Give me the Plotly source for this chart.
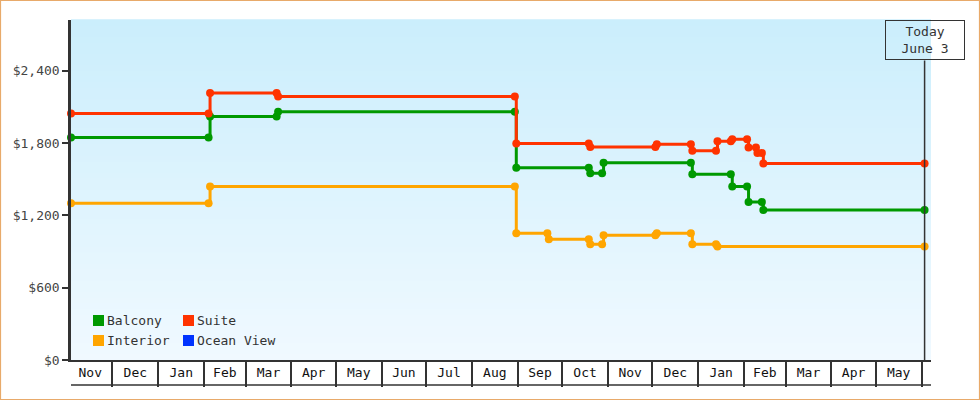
import plotly.graph_objects as go

# ---------------- data ----------------
series_names = ["Balcony", "Suite", "Interior", "Ocean View"]
series_colors = ["#009900", "#ff3300", "#ffa500", "#0033ff"]

balcony_dates = ["2021-11-03", "2022-02-04", "2022-02-05", "2022-03-22", "2022-03-23",
                 "2022-08-30", "2022-08-31", "2022-10-19", "2022-10-20", "2022-10-28",
                 "2022-10-29", "2022-12-27", "2022-12-28", "2023-01-23", "2023-01-24",
                 "2023-02-03", "2023-02-04", "2023-02-13", "2023-02-14", "2023-06-03"]
balcony_prices = [1845, 1845, 2020, 2020, 2060,
                  2060, 1595, 1595, 1548, 1548,
                  1636, 1636, 1540, 1540, 1440,
                  1440, 1310, 1310, 1245, 1245]

suite_dates = ["2021-11-03", "2022-02-04", "2022-02-05", "2022-03-22", "2022-03-23",
               "2022-08-30", "2022-08-31", "2022-10-19", "2022-10-20", "2022-12-03",
               "2022-12-04", "2022-12-27", "2022-12-28", "2023-01-13", "2023-01-14",
               "2023-01-23", "2023-01-24", "2023-02-03", "2023-02-04", "2023-02-09",
               "2023-02-10", "2023-02-13", "2023-02-14", "2023-06-03"]
suite_prices = [2045, 2045, 2215, 2215, 2186,
                2186, 1795, 1795, 1767, 1767,
                1790, 1790, 1735, 1735, 1815,
                1815, 1830, 1830, 1763, 1763,
                1717, 1717, 1630, 1630]

interior_dates = ["2021-11-03", "2022-02-04", "2022-02-05", "2022-08-30", "2022-08-31",
                  "2022-09-21", "2022-09-22", "2022-10-19", "2022-10-20", "2022-10-28",
                  "2022-10-29", "2022-12-03", "2022-12-04", "2022-12-27", "2022-12-28",
                  "2023-01-13", "2023-01-14", "2023-06-03"]
interior_prices = [1300, 1300, 1438, 1438, 1052,
                   1052, 1002, 1002, 961, 961,
                   1035, 1035, 1052, 1052, 961,
                   961, 941, 941]

ocean_view_dates = []
ocean_view_prices = []

y_tick_values = [0, 600, 1200, 1800, 2400]
y_tick_labels = ["$0", "$600", "$1,200", "$1,800", "$2,400"]
today_date = "2023-06-03"
today_label = "Today<br>June 3"
x_range = ["2021-11-03", "2023-06-07 08:00"]
y_range = [0, 2820]

series_dates = [balcony_dates, suite_dates, interior_dates, ocean_view_dates]
series_prices = [balcony_prices, suite_prices, interior_prices, ocean_view_prices]

# ---------------- layout geometry ----------------
W, H = 980, 400
L, R, T, B = 71, 49, 20, 40
PW, PH = W - L - R, H - T - B
FONT = "DejaVu Sans Mono"
TEXT = "#333333"


def dx(px):
    return (px - L) / PW


def dy(py):
    return (H - B - py) / PH


fig = go.Figure()

for name, color, xs, ys in zip(series_names, series_colors, series_dates, series_prices):
    fig.add_trace(go.Scatter(
        x=xs, y=ys, name=name, mode="lines+markers",
        line=dict(color=color, width=3, shape="hv"),
        marker=dict(color=color, size=8, symbol="circle"),
        cliponaxis=False, showlegend=False, hoverinfo="x+y+name",
    ))

shapes = []
# gradient background
top = (203, 238, 252)
bot = (240, 249, 255)
N = 60
for i in range(N):
    f = i / (N - 1)
    c = tuple(round(bot[k] + (top[k] - bot[k]) * f) for k in range(3))
    shapes.append(dict(type="rect", xref="x domain", yref="y domain",
                       x0=0, x1=1, y0=i / N, y1=(i + 1) / N + 0.002,
                       fillcolor="rgb(%d,%d,%d)" % c, line=dict(width=0),
                       layer="below"))

# bottom line of month boxes
shapes.append(dict(type="line", xref="x domain", yref="paper",
                   x0=0, x1=1, y0=dy(385), y1=dy(385),
                   line=dict(color=TEXT, width=1.5)))
# today line
shapes.append(dict(type="line", xref="x", yref="y domain",
                   x0=today_date, x1=today_date, y0=0, y1=dy(60.5),
                   line=dict(color=TEXT, width=1.5)))
# outer frame
shapes.append(dict(type="rect", xref="paper", yref="paper",
                   x0=dx(0.5), x1=dx(979.5), y0=dy(399.5), y1=dy(0.5),
                   line=dict(color="#e8aa6a", width=1.2), fillcolor="rgba(0,0,0,0)"))

annotations = []
# manual legend (2 columns)
legend_pos = [(93, 315), (183, 315), (93, 335), (183, 335)]
for (lx, ly), name, color in zip(legend_pos, series_names, series_colors):
    shapes.append(dict(type="rect", xref="paper", yref="paper",
                       x0=dx(lx), x1=dx(lx + 11), y0=dy(ly + 11), y1=dy(ly),
                       fillcolor=color, line=dict(width=0)))
    annotations.append(dict(x=dx(lx + 12), y=dy(ly + 5.5), xref="paper", yref="paper",
                            text=name, showarrow=False, xanchor="left", yanchor="middle",
                            font=dict(family=FONT, size=13, color=TEXT)))

annotations.append(dict(x=today_date, xref="x", y=1, yref="y domain",
                        text=today_label, showarrow=False, xanchor="center", yanchor="top",
                        width=78, height=38, borderpad=0, borderwidth=1, bordercolor=TEXT,
                        align="center", font=dict(family=FONT, size=13, color=TEXT)))

fig.update_layout(
    width=W, height=H,
    margin=dict(l=L, r=R, t=T, b=B, pad=0),
    paper_bgcolor="white", plot_bgcolor="rgb(240,249,255)",
    font=dict(family=FONT, size=13, color=TEXT),
    shapes=shapes, annotations=annotations,
    showlegend=False,
    xaxis=dict(type="date", range=x_range, tick0="2021-11-01", dtick="M1",
               tickformat="%b", ticklabelmode="period",
               ticks="outside", ticklen=25, tickwidth=1.5, tickcolor=TEXT,
               ticklabelstandoff=-25,
               showline=True, linecolor=TEXT, linewidth=1.5,
               showgrid=False, zeroline=False,
               tickfont=dict(family=FONT, size=13, color="#111111")),
    yaxis=dict(range=y_range, tickvals=y_tick_values, ticktext=y_tick_labels,
               ticks="outside", ticklen=6, tickwidth=2, tickcolor=TEXT,
               showline=True, linecolor=TEXT, linewidth=2.5,
               showgrid=False, zeroline=False,
               tickfont=dict(family=FONT, size=13, color="#444444")),
)

fig.write_html("out.html")
